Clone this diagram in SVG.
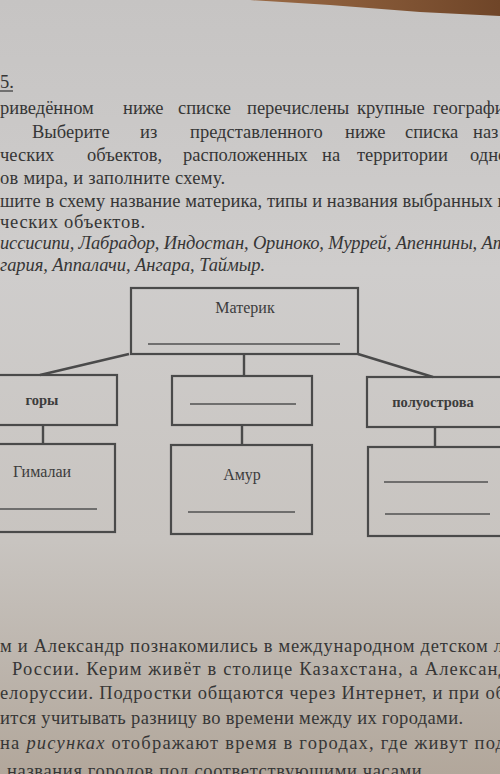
<svg xmlns="http://www.w3.org/2000/svg" width="500" height="774" viewBox="0 0 500 774">
<defs>
<linearGradient id="paper" x1="0" y1="0" x2="0" y2="1">
<stop offset="0" stop-color="#c6c4c3"/>
<stop offset="0.35" stop-color="#cfcdcc"/>
<stop offset="0.7" stop-color="#c8c4c0"/>
<stop offset="1" stop-color="#b2a79b"/>
</linearGradient>
<linearGradient id="wood" x1="0" y1="0" x2="1" y2="0">
<stop offset="0" stop-color="#9a6a45"/>
<stop offset="1" stop-color="#6f4528"/>
</linearGradient>
<style>
.t{font-family:"Liberation Serif","DejaVu Serif",serif;font-size:18.5px;fill:#363636}
.i{font-style:italic}
.lb{font-family:"Liberation Serif","DejaVu Serif",serif;font-size:16px;fill:#3c3c3c;text-anchor:middle}
.b{font-weight:bold;font-size:14.5px}
.box{fill:none;stroke:#4a4a4a;stroke-width:2.2}
.ul{stroke:#505050;stroke-width:1.3}
.cn{stroke:#4a4a4a;stroke-width:2.4;fill:none}
</style>
</defs>
<rect width="500" height="774" fill="url(#paper)"/>
<polygon points="250,0 500,0 500,16 420,12 330,5" fill="url(#wood)"/>

<g id="task-text">
<text class="t" x="0" y="88">5.</text>
<line x1="0" y1="91" x2="13" y2="91" stroke="#363636" stroke-width="1.2"/>
<text class="t" y="114"><tspan x="0">риведённом</tspan><tspan x="123">ниже</tspan><tspan x="178">списке</tspan><tspan x="247">перечислены</tspan><tspan x="357">крупные</tspan><tspan x="433">географич</tspan></text>
<text class="t" y="138"><tspan x="32">Выберите</tspan><tspan x="140">из</tspan><tspan x="190">представленного</tspan><tspan x="345">ниже</tspan><tspan x="405">списка</tspan><tspan x="473">наз</tspan></text>
<text class="t" y="161"><tspan x="0">ческих</tspan><tspan x="87">объектов,</tspan><tspan x="183">расположенных</tspan><tspan x="322">на</tspan><tspan x="357">территории</tspan><tspan x="470">одного</tspan></text>
<text class="t" x="0" y="184" textLength="225" lengthAdjust="spacing">ов мира, и заполните схему.</text>
<text class="t" x="0" y="207" textLength="505" lengthAdjust="spacing">шите в схему название материка, типы и названия выбранных г</text>
<text class="t" x="0" y="228" textLength="145" lengthAdjust="spacing">ческих объектов.</text>
<text class="t i" x="0" y="249" textLength="506" lengthAdjust="spacing">иссисипи, Лабрадор, Индостан, Ориноко, Муррей, Апеннины, Ат</text>
<text class="t i" x="0" y="271" textLength="265" lengthAdjust="spacing">гария, Аппалачи, Ангара, Таймыр.</text>
</g>

<g id="connectors">
<line class="cn" x1="129" y1="354" x2="40" y2="375"/>
<line class="cn" x1="244" y1="354" x2="244" y2="376"/>
<line class="cn" x1="358" y1="354" x2="433" y2="377"/>
<line class="cn" x1="43" y1="425" x2="43" y2="444"/>
<line class="cn" x1="242" y1="425" x2="242" y2="445"/>
<line class="cn" x1="435" y1="427" x2="435" y2="447"/>
</g>

<g id="node-continent">
<rect class="box" x="131" y="288" width="227" height="66"/>
<text class="lb" x="245" y="313">Материк</text>
<line class="ul" x1="148" y1="344" x2="340" y2="344"/>
</g>
<g id="node-mountains">
<rect class="box" x="-10" y="375" width="127" height="50"/>
<text class="lb b" x="42" y="405">горы</text>
</g>
<g id="node-type-blank">
<rect class="box" x="172" y="376" width="140" height="49"/>
<line class="ul" x1="190" y1="404" x2="296" y2="404"/>
</g>
<g id="node-peninsulas">
<rect class="box" x="367" y="377" width="150" height="50"/>
<text class="lb b" x="433" y="407">полуострова</text>
</g>
<g id="node-himalaya">
<rect class="box" x="-10" y="444" width="125" height="88"/>
<text class="lb" x="42" y="477">Гималаи</text>
<line class="ul" x1="0" y1="509" x2="97" y2="509"/>
</g>
<g id="node-amur">
<rect class="box" x="171" y="445" width="141" height="89"/>
<text class="lb" x="242" y="480">Амур</text>
<line class="ul" x1="188" y1="512" x2="295" y2="512"/>
</g>
<g id="node-peninsula-names">
<rect class="box" x="368" y="447" width="150" height="89"/>
<line class="ul" x1="384" y1="482" x2="488" y2="482"/>
<line class="ul" x1="385" y1="514" x2="490" y2="514"/>
</g>

<g id="next-task-text">
<text class="t" x="0" y="652" textLength="503" lengthAdjust="spacing">м и Александр познакомились в международном детском л</text>
<text class="t" x="12" y="675" textLength="496" lengthAdjust="spacing">России. Керим живёт в столице Казахстана, а Александ</text>
<text class="t" x="0" y="699" textLength="505" lengthAdjust="spacing">елоруссии. Подростки общаются через Интернет, и при об</text>
<text class="t" x="0" y="724" textLength="463" lengthAdjust="spacing">ится учитывать разницу во времени между их городами.</text>
<text class="t" x="0" y="749" textLength="505" lengthAdjust="spacing">на <tspan class="i">рисунках</tspan> отображают время в городах, где живут под</text>
<text class="t" x="7" y="777" textLength="420" lengthAdjust="spacing">названия городов под соответствующими часами.</text>
</g>
</svg>
